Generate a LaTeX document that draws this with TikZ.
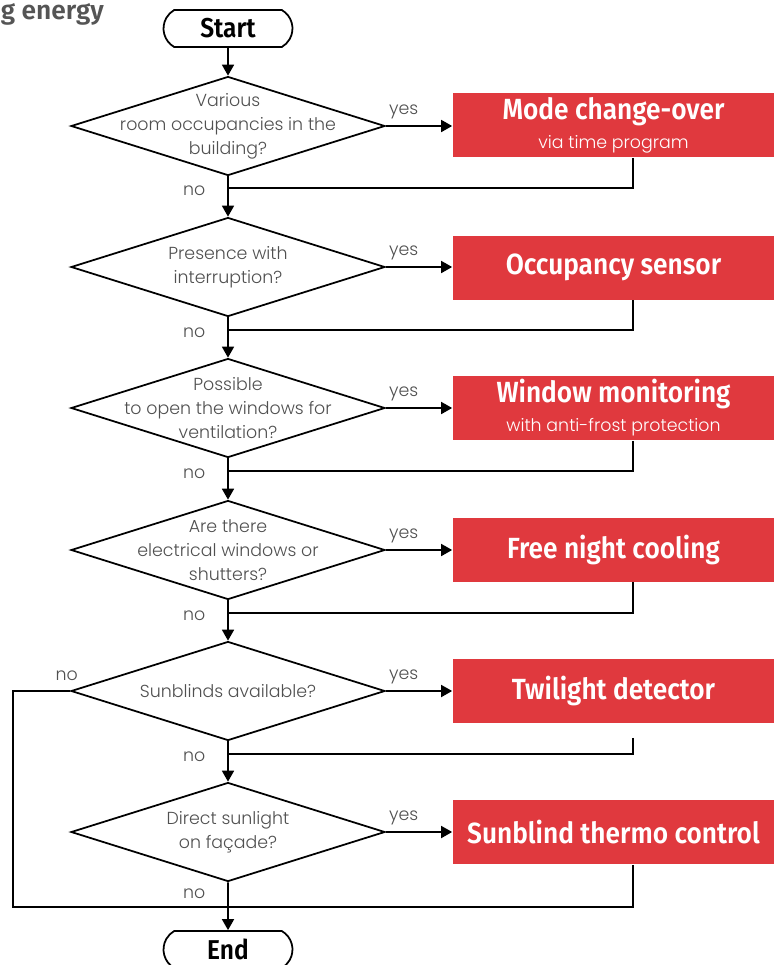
\documentclass[tikz,border=0pt]{standalone}
\usepackage{fontspec}
\setmainfont{Fira Sans}[BoldFont={* SemiBold}]
\newfontfamily\headfont{Fira Sans}[FakeStretch=0.9, BoldFont={* SemiBold}]
\newfontfamily\thinfont{Poppins}[UprightFont={* Light}]
\usetikzlibrary{shapes.geometric,shapes.misc,arrows.meta,positioning}
\definecolor{boxred}{RGB}{224,57,62}
\definecolor{textgrey}{RGB}{80,80,80}
\definecolor{headgrey}{RGB}{85,85,85}

% Texts inside the red boxes
\newcommand{\acttitle}[1]{{\headfont\bfseries\fontsize{16.6}{20}\selectfont #1}}
\newcommand{\actsub}[1]{{\thinfont\fontsize{9.9}{12}\selectfont #1}}

\begin{document}
\begin{tikzpicture}[x=0.02cm, y=-0.02cm, line width=1pt,
  flow/.style={-{Triangle[length=2.2mm,width=2.4mm]}},
  terminal/.style={draw, rounded rectangle, rounded rectangle arc length=120,
    minimum width=2.58cm, minimum height=0.74cm, inner sep=0pt,
    font=\headfont\bfseries\fontsize{15.5}{18}\selectfont},
  decision/.style={draw, diamond, minimum width=6.28cm, minimum height=1.98cm, inner sep=0pt},
  question/.style={align=center, text=textgrey, font=\thinfont\fontsize{9.9}{13.7}\selectfont},
  action/.style={fill=boxred, minimum width=6.42cm, minimum height=1.28cm, inner sep=0pt,
    text=white, align=center, font=\fontsize{9.9}{16.5}\selectfont},
  answer/.style={text=textgrey, font=\thinfont\fontsize{9.9}{11}\selectfont},
  heading/.style={text=headgrey, inner sep=0pt, font=\bfseries\fontsize{15}{17}\selectfont}
]
\useasboundingbox (0,0) rectangle (774,965);

% Heading (cut off at the left)
\node[heading, anchor=west] (heading) at (0,14.5) {g energy};

% Start and end
\node[terminal] (start) at (228,28.5) {Start};
\node[terminal] (stop) at (228,949.5) {End};

% Questions
\node[decision] (q1) at (228,126) {};
\node[question] at (q1) {Various\\room occupancies in the\\building?};
\node[decision] (q2) at (228,267) {};
\node[question] at (q2) {Presence with\\interruption?};
\node[decision] (q3) at (228,408) {};
\node[question] at (q3) {Possible\\to open the windows for\\ventilation?};
\node[decision] (q4) at (228,550) {};
\node[question] at (q4) {Are there\\electrical windows or\\shutters?};
\node[decision] (q5) at (228,691) {};
\node[question] at (q5) {Sunblinds available?};
\node[decision] (q6) at (228,832) {};
\node[question] at (q6) {Direct sunlight\\on façade?};

% Actions
\node[action] (a1) at (613.5,125) {\acttitle{Mode change-over}\\\actsub{via time program}};
\node[action] (a2) at (613.5,267.5) {\acttitle{Occupancy sensor}};
\node[action] (a3) at (613.5,408) {\acttitle{Window monitoring}\\\actsub{with anti-frost protection}};
\node[action] (a4) at (613.5,549.5) {\acttitle{Free night cooling}};
\node[action] (a5) at (613.5,690.5) {\acttitle{Twilight detector}};
\node[action] (a6) at (613.5,832) {\acttitle{Sunblind thermo control}};

% Junctions on the main line
\coordinate (j1) at (228,188);
\coordinate (j2) at (228,330);
\coordinate (j3) at (228,471);
\coordinate (j4) at (228,613);
\coordinate (j5) at (228,754);
\coordinate (j6) at (228,907);
\coordinate (k5) at (13,691);

% Main line
\draw[flow] (start) -- (q1);
\draw[flow] (q1) -- (q2);
\draw[flow] (q2) -- (q3);
\draw[flow] (q3) -- (q4);
\draw[flow] (q4) -- (q5);
\draw[flow] (q5) -- (q6);
\draw[flow] (q6) -- (stop);

% yes branches
\draw[flow] (q1.east) -- node[answer, pos=0, anchor=south west, xshift=-2pt] {yes} (q1.east -| a1.west);
\draw[flow] (q2.east) -- node[answer, pos=0, anchor=south west, xshift=-2pt] {yes} (q2.east -| a2.west);
\draw[flow] (q3.east) -- node[answer, pos=0, anchor=south west, xshift=-2pt] {yes} (q3.east -| a3.west);
\draw[flow] (q4.east) -- node[answer, pos=0, anchor=south west, xshift=-2pt] {yes} (q4.east -| a4.west);
\draw[flow] (q5.east) -- node[answer, pos=0, anchor=south west, xshift=-2pt] {yes} (q5.east -| a5.west);
\draw[flow] (q6.east) -- node[answer, pos=0, anchor=south west, xshift=-2pt] {yes} (q6.east -| a6.west);

% Back to the main line
\draw ([xshift=0.39cm]a1.south) |- (j1);
\draw ([xshift=0.39cm]a2.south) |- (j2);
\draw ([xshift=0.39cm]a3.south) |- (j3);
\draw ([xshift=0.39cm]a4.south) |- (j4);
\draw ([xshift=0.39cm,yshift=-0.29cm]a5.south) |- (j5);
\draw ([xshift=0.39cm]a6.south) |- (j6);

% no branch of the sunblinds question
\draw (q5.west) -- node[answer, pos=0.06, above, yshift=2pt] {no} (k5) |- (j6);

% no labels
\node[answer, anchor=east] at ([xshift=-0.32cm,yshift=-0.06cm]j1) {no};
\node[answer, anchor=east] at ([xshift=-0.32cm,yshift=-0.06cm]j2) {no};
\node[answer, anchor=east] at ([xshift=-0.32cm,yshift=-0.06cm]j3) {no};
\node[answer, anchor=east] at ([xshift=-0.32cm,yshift=-0.06cm]j4) {no};
\node[answer, anchor=east] at ([xshift=-0.32cm,yshift=-0.06cm]j5) {no};
\node[answer, anchor=east] at ([xshift=-0.32cm,yshift=0.26cm]j6) {no};

\end{tikzpicture}
\end{document}
